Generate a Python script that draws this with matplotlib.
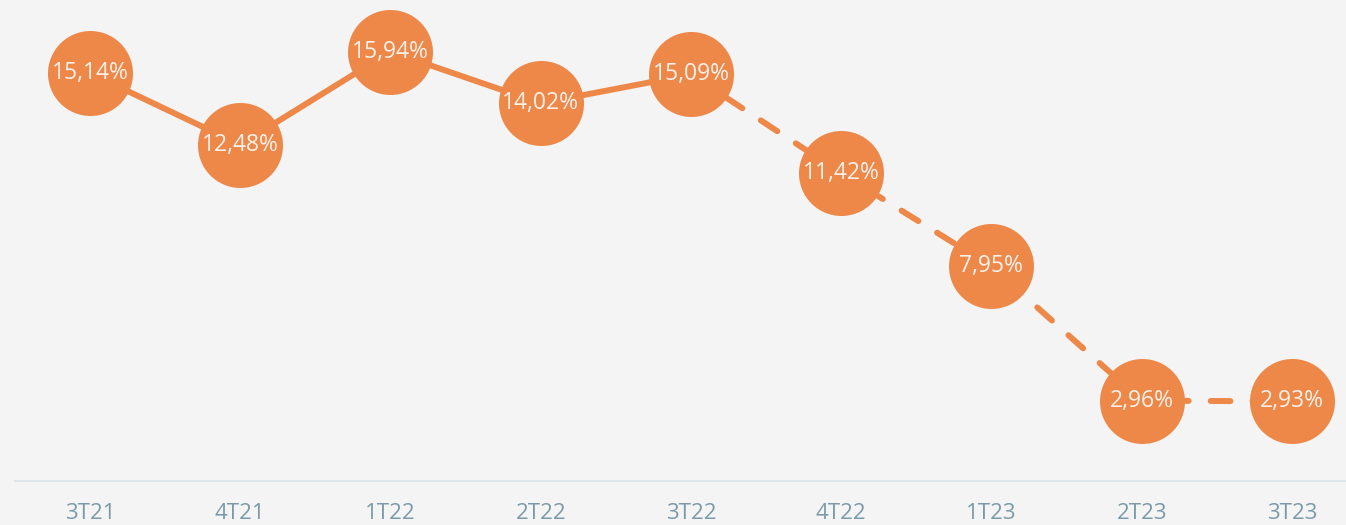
import matplotlib
matplotlib.use("Agg")
import matplotlib.pyplot as plt

categories = ["3T21", "4T21", "1T22", "2T22", "3T22", "4T22", "1T23", "2T23", "3T23"]
values = [15.14, 12.48, 15.94, 14.02, 15.09, 11.42, 7.95, 2.96, 2.93]
labels = ["15,14%", "12,48%", "15,94%", "14,02%", "15,09%", "11,42%", "7,95%", "2,96%", "2,93%"]
solid_until = 4  # index where dashed projection starts

BG = "#f4f4f4"
ORANGE = "#ed8849"
TXT = "#fbf1ea"
TICK = "#7b9aa9"
AXLINE = "#dbe5ea"

plt.rcParams["font.family"] = ["Open Sans", "DejaVu Sans"]

fig = plt.figure(figsize=(13.46, 5.25), dpi=100, facecolor=BG)
ax = fig.add_axes([15 / 1346, 44 / 525, 1 - 15 / 1346, 1 - 44 / 525])
ax.set_facecolor(BG)

x = list(range(len(categories)))
ax.plot(x[:solid_until + 1], values[:solid_until + 1], color=ORANGE, lw=4.3,
        solid_capstyle="round", zorder=2)
ax.plot(x[solid_until:], values[solid_until:], color=ORANGE, lw=4.3,
        dashes=(3.3, 3.7), dash_capstyle="round", zorder=2)
ax.plot(x, values, "o", ms=61.2, color=ORANGE, markeredgewidth=0, zorder=3)

for xi, v, lab in zip(x, values, labels):
    ax.text(xi, v, lab, ha="center", va="center", color=TXT, fontsize=16.5,
            zorder=4)

ax.set_xlim(-0.499, 8.36)
ax.set_ylim(-0.03, 17.86)
ax.set_xticks(x)
ax.set_xticklabels(categories, color=TICK, fontsize=16)
ax.tick_params(axis="x", length=0, pad=16)
ax.set_yticks([])
for s in ["top", "right", "left"]:
    ax.spines[s].set_visible(False)
ax.spines["bottom"].set_color(AXLINE)
ax.spines["bottom"].set_linewidth(1.5)

fig.savefig("out.png", dpi=100, facecolor=BG)
